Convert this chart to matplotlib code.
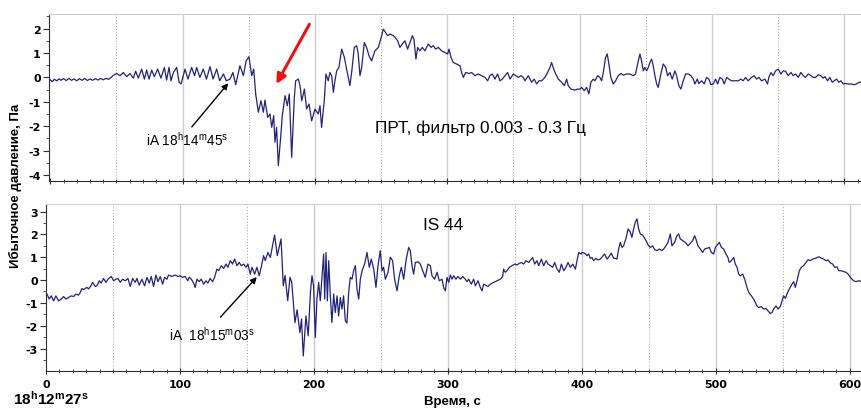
import numpy as np
import matplotlib
matplotlib.use('Agg')
import matplotlib.pyplot as plt
from matplotlib.ticker import MultipleLocator

plt.rcParams['font.family'] = ['Liberation Sans', 'DejaVu Sans']
plt.rcParams['axes.unicode_minus'] = False
plt.rcParams['mathtext.fontset'] = 'custom'
plt.rcParams['mathtext.rm'] = 'Liberation Sans'
plt.rcParams['mathtext.bf'] = 'Liberation Sans:bold'

# PRT record, filter 0.003 - 0.3 Hz (time s, pressure Pa)
top_pts = [
    (0, -0.10), (1.5, -0.18), (3, -0.08), (5, -0.14), (6.5, -0.06), (8, -0.12), (10, -0.05),
    (12, -0.13), (14, -0.04), (16, -0.12), (18, -0.06), (20, -0.14), (22, -0.05), (24, -0.12),
    (26, -0.04), (28, -0.13), (30, -0.06), (32, -0.12), (34, -0.05), (36, -0.11), (38, -0.04),
    (40, -0.10), (42, -0.04), (44, -0.08), (46, 0.00), (47.5, 0.08),
    (50.2, 0.16), (52.7, 0.07), (55.2, 0.20), (57.7, 0.03), (60.2, 0.16), (62.7, -0.03),
    (64.5, 0.25), (66.5, -0.03), (69.0, 0.34), (71.1, -0.07), (72.8, 0.30), (74.6, -0.07),
    (76.6, 0.30), (78.6, 0.03), (81.1, 0.34), (83.6, -0.03), (86.2, 0.41), (87.9, -0.11),
    (89.7, 0.41), (91.2, -0.14), (93.0, 0.20), (95.5, 0.41), (97.3, -0.20), (98.8, -0.27),
    (101.8, 0.34), (104, -0.07), (106.8, 0.41), (109, 0.07), (110.6, 0.41), (113, 0.00),
    (115.6, 0.34), (118, -0.07), (120.7, 0.44), (123, -0.07), (125.7, 0.34), (128, -0.14),
    (130.8, 0.14), (133, -0.14), (135.8, -0.07), (138, 0.20), (140.1, -0.30), (143.3, 0.48),
    (145.9, 0.07), (148, 0.68), (150.1, 0.85), (152.2, 0.07), (153.7, 0.34), (155.2, -0.68),
    (157.2, -1.43), (159.2, -0.96), (161, -1.43), (162.2, -0.93), (164.3, -1.64), (166, -1.50),
    (167.3, -2.05), (168.8, -1.57), (169.8, -2.66), (171, -2.05), (172.3, -3.62), (174.3, -2.30),
    (175.3, -1.57), (177.4, -0.75), (179.1, -1.16), (180.6, -0.68), (182.4, -3.28), (184.4, -0.82),
    (185.4, -0.14), (187.4, -0.07), (188.7, -0.34), (190, -0.96), (192, -0.48), (193.7, -1.30),
    (195.5, -1.09), (197.5, -1.78),
    (200.0, -1.30), (202.5, -1.50), (203.8, -1.16), (205.0, -2.05), (207.0, -0.96), (208.3, 0.14),
    (210.0, -0.14), (211.3, 0.20), (212.6, 0.07), (213.9, -0.61), (215.1, -0.14), (216.4, 0.27),
    (218.1, 0.41), (220.2, 1.16), (222.2, 0.82), (223.9, 0.34), (226.4, -0.34), (227.7, 0.20),
    (229.7, 1.23), (231.5, 1.30), (232.7, 0.96), (234.0, 0.07), (235.3, 0.41), (237.3, 1.43),
    (239.0, 1.23), (240.8, 0.89), (242.8, 0.68), (245.3, 1.09), (247.9, 1.23), (250.4, 1.71),
    (251.6, 1.98), (253.4, 1.84), (254.9, 1.71), (256.7, 1.78), (259.2, 1.71), (260.5, 1.64),
    (262.5, 1.50), (264.2, 1.23), (266.0, 1.37), (268.0, 1.50), (270.0, 1.16), (271.8, 1.43),
    (273.6, 1.71), (274.8, 1.57), (276.3, 0.75), (277.6, 1.23), (279.3, 1.09), (281.1, 1.23),
    (283.1, 1.09), (285.6, 1.37), (287.7, 1.23), (289.4, 1.30), (291.2, 1.16), (293.2, 1.23),
    (295.7, 1.09), (298.2, 1.02), (300.3, 0.96), (301.3, 1.16), (302.8, 0.82), (304.5, 0.61),
    (307.0, 0.55), (309.6, 0.48), (310.8, 0.20), (312.1, 0.00), (313.9, 0.20), (316.4, 0.16),
    (318.4, 0.20), (320.9, 0.07), (323.4, 0.14), (325.9, 0.07), (328.5, 0.00), (330.5, -0.14),
    (332.2, 0.07), (334.0, 0.14), (336.0, -0.07), (338.0, 0.14), (339.8, -0.14), (341.6, -0.07),
    (343.6, 0.07), (345.6, 0.20), (347.4, -0.07), (349.9, 0.14), (351.6, 0.07), (353.7, 0.00),
    (355.7, 0.07), (357.4, 0.00), (358.7, -0.14), (361.2, 0.07), (363.7, -0.20), (365.7, -0.07),
    (367.5, -0.27), (369.3, -0.14), (371.3, -0.14), (373.8, 0.00), (375.8, 0.20), (377.6, 0.41),
    (378.8, 0.61), (380.4, 0.34), (381.9, 0.14), (383.9, -0.07), (386.4, -0.20), (388.4, -0.34),
    (390.2, -0.07), (391.4, -0.34), (393.5, -0.48), (396.0, -0.52), (398.5, -0.48), (400.3, -0.48),
    (401.5, -0.41), (403.5, -0.55), (405.3, -0.41), (407.0, -0.68), (408.5, -0.20), (410.3, -0.07),
    (411.6, -0.14), (413.6, 0.07), (415.3, 0.00), (416.6, -0.14), (417.9, 0.20), (419.6, 0.82),
    (420.9, 0.96), (422.1, 0.55), (423.6, 0.00), (425.4, -0.27), (427.2, -0.14), (429.2, 0.07),
    (431.2, 0.16), (433.0, 0.09), (435.5, 0.14), (438.0, 0.14), (440.5, 0.07), (442.3, 0.14),
    (443.8, 0.55), (445.6, 0.96), (446.8, 0.68), (448.1, 0.27), (449.3, 0.41), (450.6, 0.27),
    (451.9, 0.41), (453.1, 0.61), (454.4, 0.75), (455.6, 0.48), (456.9, 0.07), (458.2, -0.27),
    (459.4, -0.41), (461.4, 0.14), (463.2, 0.55), (465.0, 0.41), (466.5, 0.07), (468.2, 0.20),
    (470.0, -0.07), (472.0, 0.27), (473.3, 0.07), (475.0, -0.34), (476.5, -0.48), (478.3, -0.14),
    (480.1, 0.14), (482.1, 0.14), (484.1, 0.07), (485.9, -0.07), (487.1, -0.27), (488.9, -0.07),
    (490.1, -0.25), (492.2, -0.14), (494.2, -0.27), (495.9, 0.00), (497.7, -0.07), (499.2, -0.30),
    (501.0, -0.27), (502.7, -0.07), (504.3, -0.27), (506.0, 0.00), (507.8, -0.07), (509.3, -0.27),
    (511.1, 0.00), (512.8, -0.07), (514.8, -0.14), (517.4, -0.14), (519.9, -0.14), (521.9, -0.07),
    (523.6, -0.14), (525.4, 0.00), (527.4, -0.14), (529.9, 0.00), (531.9, 0.07), (533.7, -0.07),
    (535.5, 0.00), (537.5, -0.14), (540.0, -0.07), (542.0, -0.27), (543.0, 0.00), (544.6, 0.20),
    (546.3, 0.07), (548.1, 0.27), (550.1, 0.34), (552.1, 0.14), (553.9, 0.27), (555.6, 0.25),
    (557.7, 0.07), (559.7, 0.20), (561.4, 0.07), (563.2, 0.14), (565.2, 0.00), (567.2, 0.20),
    (569.0, 0.07), (570.7, 0.00), (572.8, 0.14), (574.8, 0.07), (576.5, 0.00), (578.3, 0.00),
    (580.3, 0.11), (582.3, 0.07), (584.1, -0.03), (585.4, 0.03), (587.4, -0.14), (589.1, 0.00),
    (590.9, -0.20), (592.4, -0.14), (594.2, -0.07), (595.9, -0.20), (597.5, -0.14), (599.2, -0.27),
    (601.0, -0.25), (603.0, -0.27), (605.5, -0.27), (607.5, -0.30), (609.3, -0.27), (611.0, -0.20),
    (613.0, -0.20),
]

# IS 44 record (time s, pressure Pa)
bot_pts = [
    (0.7, -0.61), (2.4, -0.83), (3.9, -0.69), (5.7, -0.91), (7.4, -0.69), (9.4, -0.91),
    (11.4, -0.83), (13.1, -0.72), (14.9, -0.83), (16.9, -0.76), (18.8, -0.69), (20.6, -0.72),
    (22.3, -0.61), (24.3, -0.66), (25.6, -0.54), (26.8, -0.37), (28.1, -0.42), (30.5, -0.32),
    (31.8, -0.39), (33.8, -0.22), (34.8, -0.10), (36.8, -0.28), (38.0, -0.25), (39.8, -0.03),
    (41.2, -0.13), (43.0, 0.07), (44.7, -0.10), (46.7, 0.07), (48.7, 0.16), (50.5, -0.03),
    (52.2, 0.04), (53.7, 0.07), (55.4, -0.10), (57.2, 0.04), (59.2, -0.03), (61.2, 0.07),
    (62.9, -0.28), (64.7, 0.07), (66.6, -0.10), (67.9, 0.07), (69.6, -0.22), (71.6, 0.04),
    (73.6, -0.25), (75.4, 0.12), (77.1, -0.13), (78.6, 0.16), (80.3, -0.28), (82.1, 0.22),
    (83.6, -0.07), (85.3, 0.16), (87.1, -0.18), (88.5, 0.12), (90.3, 0.04), (91.5, 0.22),
    (94.0, 0.16), (96.5, 0.22), (98.5, 0.16), (100.2, 0.19), (101.9, 0.12), (103.9, 0.16),
    (105.9, -0.03), (106.9, 0.12), (108.5, 0.04), (110.2, -0.13), (111.4, -0.32), (112.7, 0.04),
    (114.4, -0.07), (115.9, 0.04), (117.7, -0.18), (119.4, -0.03), (120.9, -0.13), (122.6, 0.07),
    (124.4, -0.07), (125.9, 0.12), (127.6, 0.48), (128.9, 0.41), (130.9, 0.63), (132.6, 0.51),
    (134.4, 0.70), (135.8, 0.56), (137.6, 0.85), (139.3, 0.70), (140.8, 0.92), (142.6, 0.63),
    (144.3, 0.77), (145.8, 0.63), (147.6, 0.70), (149.3, 0.56), (150.8, 0.70), (152.5, 0.26),
    (153.8, 0.56), (155.8, 0.26), (157.5, 0.56), (159.2, 0.19), (160.7, 0.56), (162.5, 1.07),
    (163.7, 0.85), (165.7, 1.21), (167.5, 0.99), (168.7, 1.36), (170.7, 1.97), (172.7, 1.07),
    (175.5, 1.80), (177.2, -0.25), (178.5, 0.20), (180.5, -0.90), (182.2, 0.12), (183.5, -0.10),
    (185.9, -1.86), (187.5, -1.30), (189.6, -2.30), (190.8, -1.70), (192.1, -3.32), (194.1, -1.57),
    (195.8, -2.44), (197.5, -0.50), (198.6, 0.19), (199.8, -0.25), (201.1, -2.51), (202.3, -0.83),
    (203.6, -0.10), (204.8, -0.91), (206.1, 0.19), (207.3, 1.14), (208.1, -0.83), (209.1, 1.21),
    (210.1, -0.91), (211.1, 0.85), (212.3, -0.69), (213.5, -1.86), (214.8, -0.61), (216.0, -1.42),
    (217.3, -0.69), (218.5, -1.57), (219.8, -0.76), (221.0, -1.27), (222.2, -0.69), (223.5, -1.78),
    (224.7, -1.88), (226.0, -0.54), (227.2, 0.12), (228.5, 0.04), (229.7, 0.41), (231.0, 0.63),
    (232.2, -0.39), (233.5, -0.83), (234.7, 0.04), (236.0, 0.41), (237.9, 0.70), (239.7, 1.21),
    (241.4, 0.56), (242.9, 0.92), (244.7, 0.48), (246.4, -0.32), (247.9, 0.63), (249.6, 1.29),
    (250.9, 0.41), (252.1, 0.56), (253.4, 0.04), (255.4, 0.34), (257.1, 1.00), (258.8, 0.85),
    (260.3, 0.04), (262.1, -0.47), (263.8, 0.19), (265.3, 0.56), (267.1, 0.04), (268.8, 0.85),
    (270.8, 1.43), (272.0, 1.29), (273.3, 0.63), (274.5, 0.26), (275.8, 0.77), (277.8, 0.80),
    (279.5, 0.70), (281.3, 0.41), (283.2, 0.12), (285.2, 0.70), (287.0, 0.63), (288.2, 0.19),
    (290.2, 0.04), (292.0, 0.34), (293.7, -0.03), (295.7, 0.04), (296.9, -0.32), (298.2, -0.47),
    (299.4, 0.12), (300.7, -0.10), (301.9, 0.22), (303.2, 0.04), (304.4, 0.19), (306.1, 0.04),
    (307.6, 0.16), (309.4, 0.04), (311.1, 0.16), (313.1, 0.04), (314.4, -0.07), (315.6, 0.04),
    (317.6, -0.18), (319.3, 0.04), (320.6, -0.25), (322.6, -0.03), (324.3, -0.32), (325.6, -0.47),
    (326.8, -0.18), (328.1, -0.22), (330.0, -0.28), (331.8, -0.18), (334.3, -0.10), (336.8, -0.03),
    (339.3, 0.04), (341.0, 0.16), (341.7, 0.48), (343.0, 0.34), (344.2, 0.41), (346.0, 0.56),
    (348.0, 0.63), (350.0, 0.70), (351.7, 0.66), (353.4, 0.73), (355.0, 0.77), (356.7, 0.70),
    (358.4, 0.85), (360.4, 0.77), (362.4, 0.92), (363.4, 0.99), (364.9, 0.70), (366.6, 0.85),
    (367.9, 0.63), (369.9, 0.92), (371.6, 0.63), (373.4, 0.85), (374.9, 0.70), (376.6, 0.63),
    (378.3, 0.56), (379.8, 0.77), (381.6, 0.48), (383.3, 0.34), (384.8, 0.70), (386.6, 0.41),
    (388.3, 0.56), (389.8, 0.77), (391.5, 0.56), (393.3, 0.70), (395.3, 0.48), (396.5, 0.85),
    (397.8, 1.21), (399.7, 1.14), (400.2, 1.21), (402.2, 1.18), (403.9, 1.07), (405.2, 1.14),
    (406.4, 0.95), (407.7, 0.99), (408.9, 0.85), (410.7, 0.95), (412.1, 0.88), (413.9, 0.92),
    (415.6, 1.04), (417.1, 1.14), (418.9, 0.92), (420.6, 1.04), (422.1, 1.18), (423.9, 0.95),
    (425.1, 0.95), (426.3, 0.92), (427.6, 1.36), (428.8, 1.65), (430.1, 1.43), (431.3, 1.50),
    (433.1, 1.83), (434.6, 2.24), (436.3, 2.10), (437.5, 1.87), (438.8, 2.24), (440.0, 2.53),
    (441.3, 2.68), (442.5, 2.24), (443.8, 2.02), (445.5, 1.97), (447.0, 1.83), (448.7, 1.65),
    (450.0, 1.50), (451.2, 1.43), (453.0, 1.50), (454.5, 1.33), (456.2, 1.29), (457.9, 1.36),
    (459.9, 1.29), (461.2, 1.36), (462.9, 1.50), (464.4, 1.65), (466.2, 2.02), (467.4, 1.50),
    (469.4, 1.65), (471.1, 1.94), (472.4, 2.02), (473.6, 1.80), (475.4, 1.73), (477.4, 1.65),
    (479.4, 1.50), (481.1, 1.61), (482.9, 1.73), (484.3, 1.94), (485.3, 1.80), (486.8, 1.50),
    (488.6, 1.36), (490.3, 1.21), (491.8, 1.36), (493.6, 1.39), (495.3, 1.43), (496.8, 1.21),
    (498.5, 1.14), (499.8, 1.43), (501.8, 1.58), (502.8, 1.65), (504.3, 1.43), (506.0, 1.36),
    (507.7, 1.14), (509.2, 0.99), (510.2, 0.77), (511.7, 0.85), (513.5, 0.99), (514.7, 0.70),
    (516.0, 0.56), (517.2, 0.26), (518.4, 0.19), (520.2, 0.26), (521.7, 0.04), (523.4, -0.32),
    (524.7, -0.54), (526.7, -0.69), (528.4, -0.83), (529.6, -0.98), (530.9, -1.13), (532.1, -1.20),
    (534.1, -1.16), (535.9, -1.27), (537.6, -1.24), (539.1, -1.35), (540.9, -1.46), (542.1, -1.42),
    (543.3, -1.27), (545.1, -1.13), (546.6, -1.27), (548.3, -1.16), (549.6, -0.91), (550.8, -0.69),
    (552.1, -0.80), (553.3, -0.61), (555.0, -0.39), (557.0, -0.18), (558.3, -0.07), (559.5, -0.32),
    (560.8, -0.03), (562.5, 0.41), (564.0, 0.56), (565.7, 0.63), (567.5, 0.77), (569.0, 0.89),
    (570.7, 0.85), (572.5, 0.92), (574.5, 0.95), (575.7, 0.99), (577.4, 1.02), (578.9, 0.95),
    (580.7, 0.92), (582.4, 0.85), (583.9, 0.88), (585.7, 0.75), (587.4, 0.70), (588.9, 0.56),
    (590.6, 0.58), (591.9, 0.41), (593.9, 0.41), (595.6, 0.37), (597.4, 0.34), (598.9, 0.26),
    (600.6, 0.12), (601.8, 0.04), (603.1, -0.03), (604.8, -0.07), (606.8, -0.03), (608.8, -0.06),
]

t_top, p_top = np.array(top_pts).T
t_bot, p_bot = np.array(bot_pts).T

x_ticks = [0, 100, 200, 300, 400, 500, 600]
top_yticks = [-4, -3, -2, -1, 0, 1, 2]
bot_yticks = [-3, -2, -1, 0, 1, 2, 3]

line_col = '#22227c'
W, H = 862, 410

fig = plt.figure(figsize=(W / 100, H / 100), dpi=100)
fig.patch.set_facecolor('white')

# axes placed in pixel terms to follow the original layout
ax1 = fig.add_axes([49 / W, (H - 182) / H, (W - 49) / W, (182 - 15) / H])
ax2 = fig.add_axes([46 / W, (H - 372) / H, (W - 46) / W, (372 - 205) / H])


def style_axis(ax, yticks):
    for g in range(100, 700, 100):
        ax.axvline(g, color='#cccccc', lw=1.0, zorder=0)
    for g in range(50, 650, 100):
        ax.axvline(g, color='#a0a0a0', lw=0.7, ls=(0, (1, 2)), zorder=0)
    ax.spines['right'].set_visible(False)
    ax.spines['top'].set_color('#cccccc')
    ax.spines['left'].set_color('#303030')
    ax.spines['bottom'].set_color('#303030')
    ax.set_xticks(x_ticks)
    ax.xaxis.set_minor_locator(MultipleLocator(10))
    ax.set_yticks(yticks)
    ax.yaxis.set_minor_locator(MultipleLocator(0.5))
    ax.tick_params(axis='x', which='major', direction='inout', length=5, width=0.8, color='#303030')
    ax.tick_params(axis='x', which='minor', direction='inout', length=3, width=0.6, color='#303030')
    ax.tick_params(axis='y', which='major', direction='out', length=4, width=0.8, color='#303030', pad=2)
    ax.tick_params(axis='y', which='minor', direction='out', length=2, width=0.6, color='#303030')
    for lab in ax.get_xticklabels() + ax.get_yticklabels():
        lab.set_fontfamily('DejaVu Sans')
        lab.set_fontweight('bold')
        lab.set_fontsize(8)


ax1.plot(t_top, p_top, color=line_col, lw=0.9)
ax1.set_xlim(-1, 613.4)
ax1.set_ylim(-4.25, 2.6)
style_axis(ax1, top_yticks)
ax1.tick_params(axis='x', labelbottom=False)

ax2.plot(t_bot, p_bot, color=line_col, lw=0.9)
ax2.set_xlim(0, 609.3)
ax2.set_ylim(-3.98, 3.33)
style_axis(ax2, bot_yticks)
ax2.tick_params(axis='x', pad=3)

# annotations
ax1.annotate('', xy=(135.8, -0.15), xytext=(105.6, -2.12),
             arrowprops=dict(arrowstyle='-|>', color='black', lw=1.0, mutation_scale=9))
ax1.text(72.3, -2.76, r'iA 18$^{\rm h}$14$^{\rm m}$45$^{\rm s}$', fontsize=9.8, va='baseline')

ax1.annotate('', xy=(169.8, -0.37), xytext=(196.8, 2.28),
             arrowprops=dict(arrowstyle='-|>', color='#ee1111', lw=2.2, mutation_scale=14))
ax1.text(245.4, -2.25, 'ПРТ, фильтр 0.003 - 0.3 Гц', fontsize=12.4, va='baseline')

ax2.annotate('', xy=(158.8, 0.22), xytext=(128.9, -1.71),
             arrowprops=dict(arrowstyle='-|>', color='black', lw=1.0, mutation_scale=9))
ax2.text(91.6, -2.59, r'iA  18$^{\rm h}$15$^{\rm m}$03$^{\rm s}$', fontsize=9.8, va='baseline')
ax2.text(281.7, 2.24, 'IS 44', fontsize=12.4, va='baseline')

fig.text(15 / W, (H - 186) / H, 'Ибыточное давление, Па', rotation=90,
         ha='center', va='center', fontsize=9.5, fontweight='bold')
fig.text(452 / W, (H - 402) / H, 'Время, с', ha='center', va='center',
         fontsize=9.5, fontweight='bold')
fig.text(13 / W, (H - 405) / H, r'$\mathbf{18^{h}12^{m}27^{s}}$', ha='left', va='baseline',
         fontsize=11)

fig.savefig('out.png', dpi=100)
